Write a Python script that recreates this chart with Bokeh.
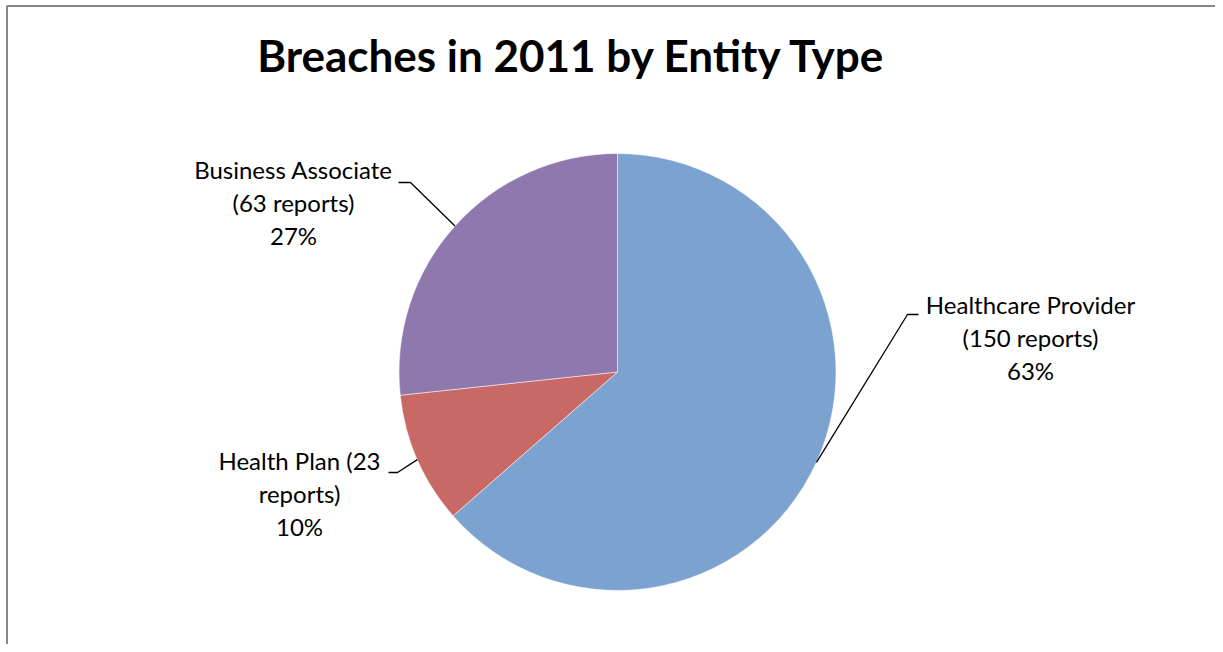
import math
from bokeh.plotting import figure
from bokeh.models import Range1d
from bokeh.core.properties import value
from bokeh.embed import file_html
from bokeh.resources import INLINE

# ---- data ----
categories = ["Healthcare Provider", "Health Plan", "Business Associate"]
reports = [150, 23, 63]
percents = [63, 10, 27]
colors = ["#7CA3D0", "#C96966", "#8F78AE"]
title_text = "Breaches in 2011 by Entity Type"

# ---- layout (screen-like coordinates inside the figure) ----
W, H = 1215, 644
def sy(y):  # figure pixel y -> data y
    return H - y

cx, cy = 617, sy(371.5)
R = 218.5

p = figure(width=W, height=H, output_backend="svg", toolbar_location=None,
           x_range=Range1d(0, W), y_range=Range1d(0, H),
           min_border=0, min_border_left=0, min_border_right=0,
           min_border_top=0, min_border_bottom=0)
p.axis.visible = False
p.grid.visible = False
p.outline_line_color = None
p.background_fill_color = "white"
p.border_fill_color = "white"

# frame border (left and top; the rest lies outside the crop)
p.line(x=[6.5, 6.5, W], y=[0, sy(5.5), sy(5.5)],
       line_color="#878787", line_width=2)

total = sum(reports)
cum = 0.0
mids = []
for v, c in zip(reports, colors):
    a0 = math.pi / 2 - 2 * math.pi * cum / total
    cum += v
    a1 = math.pi / 2 - 2 * math.pi * cum / total
    p.wedge(x=cx, y=cy, radius=R, start_angle=a1, end_angle=a0,
            fill_color=c, line_color="white", line_alpha=0.5, line_width=1)
    mids.append((a0 + a1) / 2)

# labels
label_lines = [
    [f"{categories[0]}", f"({reports[0]} reports)", f"{percents[0]}%"],
    [f"{categories[1]} ({reports[1]}", "reports)", f"{percents[1]}%"],
    [f"{categories[2]}", f"({reports[2]} reports)", f"{percents[2]}%"],
]
label_center_x = [1030, 299, 293]
label_first_baseline = [315, 471.5, 180]
line_gap = 33.2
base_fix_label = 11.5   # renderer places the 'alphabetic' line lower than the true baseline
base_fix_title = 19
# leader line: elbow point and end point (figure px)
elbow = [(907, 314), (397, 472), (410, 182)]
ends = [(918, 314), (388, 472), (398, 182)]

font = value("Lato")
for i in range(3):
    for k, t in enumerate(label_lines[i]):
        yb = label_first_baseline[i] + k * line_gap - base_fix_label
        p.text(x=[label_center_x[i]], y=[sy(yb)],
               text=[t], text_font=font, text_font_size="24px",
               text_align="center", text_baseline="alphabetic", text_color="black")
    mx = cx + R * math.cos(mids[i])
    my = cy + R * math.sin(mids[i])
    p.line(x=[mx, elbow[i][0], ends[i][0]],
           y=[my, sy(elbow[i][1]), sy(ends[i][1])],
           line_color="black", line_width=1.3)

p.text(x=[571.5], y=[sy(73 - base_fix_title)], text=[title_text], text_font=font,
       text_font_style="bold", text_font_size="44px", text_align="center",
       text_baseline="alphabetic", text_color="black")

open("out.html", "w").write(file_html(p, INLINE))
